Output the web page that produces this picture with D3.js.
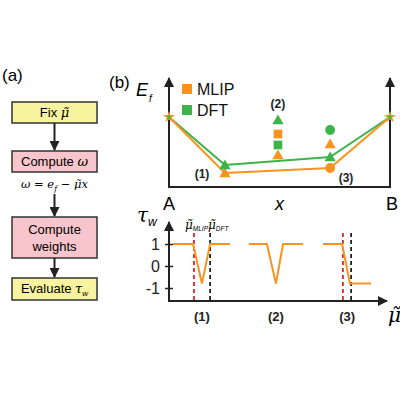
<!DOCTYPE html>
<html><head><meta charset="utf-8">
<script src="https://cdn.jsdelivr.net/npm/d3@7"></script>
<style>body{margin:0;background:#fff}svg{display:block;font-family:"Liberation Sans",Arial,sans-serif}</style>
</head><body>
<script>
// ---- data ----
const compositions = [0, 0.253, 0.729, 1];
const efMLIP = [7.0, 1.4, 1.9, 7.0];
const efDFT = [7.0, 2.2, 3.0, 7.0];
const shapesMLIP = ["star", "triangle", "circle", "star"];
const shapesDFT = ["star", "triangle", "triangle", "star"];
const offX = [0.493, 0.493, 0.493, 0.493, 0.729, 0.729];
const offEf = [6.7, 5.3, 4.2, 3.2, 5.7, 4.3];
const offSeries = ["DFT", "MLIP", "DFT", "MLIP", "DFT", "MLIP"];
const offShape = ["triangle", "square", "square", "triangle", "circle", "triangle"];
const seriesNames = ["MLIP", "DFT"];
const tauSeg1Mu = [0.018, 0.109, 0.149, 0.186, 0.276];
const tauSeg1 = [1, 1, -0.8, 1, 1];
const tauSeg2Mu = [0.362, 0.443, 0.484, 0.516, 0.606];
const tauSeg2 = [1, 1, -0.8, 1, 1];
const tauSeg3Mu = [0.697, 0.783, 0.819, 0.914];
const tauSeg3 = [1, 1, -0.8, -0.8];
const muMLIP = [0.113, 0.787];
const muDFT = [0.186, 0.824];
const tauTicks = [1, 0, -1];
const structLabels = ["(1)", "(2)", "(3)"];
const structMu = [0.149, 0.484, 0.806];
const flowSteps = ["Fix", "Compute", "Compute weights", "Evaluate"];

const colors = {MLIP: "#F7931E", DFT: "#3BB44A"};
const W = 400, H = 400;
const svg = d3.select("body").append("svg").attr("width", W).attr("height", H);
const defs = svg.append("defs");
defs.append("marker").attr("id", "ah").attr("viewBox", "0 0 10 10").attr("refX", 9).attr("refY", 5)
  .attr("markerWidth", 5).attr("markerHeight", 5).attr("orient", "auto-start-reverse")
  .append("path").attr("d", "M0,0 L10,5 L0,10 Z").attr("fill", "#222");
const symMap = {star: d3.symbolStar, triangle: d3.symbolTriangle, circle: d3.symbolCircle, square: d3.symbolSquare};
const symSize = {star: 110, triangle: 55, circle: 75, square: 75};

// ---- (a) flowchart ----
svg.append("text").attr("x", 2).attr("y", 81).attr("font-size", 17).text("(a)");
const boxes = [
  {y0: 102, y1: 123, fill: "#F8F39E"},
  {y0: 151, y1: 172, fill: "#F7C5CB"},
  {y0: 217, y1: 258, fill: "#F7C5CB"},
  {y0: 278, y1: 300, fill: "#F8F39E"}
];
const fc = svg.append("g");
boxes.forEach((b, i) => {
  fc.append("rect").attr("x", 12).attr("y", b.y0).attr("width", 85).attr("height", b.y1 - b.y0)
    .attr("fill", b.fill).attr("stroke", "#333").attr("stroke-width", 1.5);
});
const cx = 54.5;
const t0 = fc.append("text").attr("x", cx).attr("y", 117).attr("text-anchor", "middle").attr("font-size", 13);
t0.append("tspan").text(flowSteps[0] + " ");
t0.append("tspan").attr("font-style", "italic").attr("font-family", "DejaVu Serif").text("μ\u0303");
const t1 = fc.append("text").attr("x", cx).attr("y", 166).attr("text-anchor", "middle").attr("font-size", 13);
t1.append("tspan").text(flowSteps[1] + " ");
t1.append("tspan").attr("font-style", "italic").attr("font-family", "DejaVu Serif").text("ω");
const w2 = flowSteps[2].split(" ");
fc.append("text").attr("x", cx).attr("y", 234).attr("text-anchor", "middle").attr("font-size", 13).text(w2[0]);
fc.append("text").attr("x", cx).attr("y", 251).attr("text-anchor", "middle").attr("font-size", 13).text(w2[1]);
const t3 = fc.append("text").attr("x", cx).attr("y", 293).attr("text-anchor", "middle").attr("font-size", 13);
t3.append("tspan").text(flowSteps[3] + " ");
t3.append("tspan").attr("font-style", "italic").attr("font-family", "DejaVu Serif").text("τ");
t3.append("tspan").attr("font-size", 8).attr("dy", 3).attr("font-style", "italic").text("w");
const fm = fc.append("text").attr("x", cx).attr("y", 188).attr("text-anchor", "middle").attr("font-size", 11.5)
  .attr("font-family", "DejaVu Serif").attr("font-style", "italic");
fm.append("tspan").text("ω");
fm.append("tspan").attr("font-style", "normal").text(" = ");
fm.append("tspan").text("e");
fm.append("tspan").attr("font-size", 8).attr("dy", 3).text("f");
fm.append("tspan").attr("dy", -3).attr("font-style", "normal").text(" − ");
fm.append("tspan").text("μ\u0303x");
[[123, 151], [194, 217], [258, 278]].forEach(([a, b]) => {
  fc.append("line").attr("x1", cx).attr("x2", cx).attr("y1", a).attr("y2", b - 1)
    .attr("stroke", "#222").attr("stroke-width", 2).attr("marker-end", "url(#ah)");
});

// ---- (b) top panel ----
svg.append("text").attr("x", 109).attr("y", 88).attr("font-size", 17).text("(b)");
const xT = d3.scaleLinear().domain([0, 1]).range([169, 390]);
const yT = d3.scaleLinear().domain([0, 10]).range([187, 87]);
const topG = svg.append("g");
topG.append("line").attr("x1", xT(0)).attr("x2", xT(0)).attr("y1", yT(0)).attr("y2", 78)
  .attr("stroke", "#222").attr("stroke-width", 2).attr("marker-end", "url(#ah)");
topG.append("line").attr("x1", xT(1)).attr("x2", xT(1)).attr("y1", yT(0)).attr("y2", 78)
  .attr("stroke", "#222").attr("stroke-width", 2).attr("marker-end", "url(#ah)");
topG.append("line").attr("x1", xT(0) - 1).attr("x2", xT(1) + 1).attr("y1", yT(0)).attr("y2", yT(0))
  .attr("stroke", "#222").attr("stroke-width", 2);
const ef = topG.append("text").attr("x", 136).attr("y", 96).attr("font-size", 18).attr("font-style", "italic");
ef.append("tspan").text("E");
ef.append("tspan").attr("font-size", 10).attr("dy", 6).attr("dx", 1).text("f");
topG.append("text").attr("x", xT(0)).attr("y", 210).attr("text-anchor", "middle").attr("font-size", 18).text("A");
topG.append("text").attr("x", xT(1) + 2).attr("y", 210).attr("text-anchor", "middle").attr("font-size", 18).text("B");
topG.append("text").attr("x", xT(0.5)).attr("y", 210).attr("text-anchor", "middle").attr("font-size", 18).attr("font-style", "italic").text("x");

const line = d3.line().x(d => xT(d[0])).y(d => yT(d[1]));
[["DFT", efDFT], ["MLIP", efMLIP]].forEach(([name, vals]) => {
  const pts = compositions.map((c, i) => [c, vals[i]]);
  topG.append("path").attr("d", line(pts)).attr("fill", "none").attr("stroke", colors[name]).attr("stroke-width", 2);
});
[["MLIP", efMLIP, shapesMLIP], ["DFT", efDFT, shapesDFT]].forEach(([name, vals, shapes]) => {
  compositions.forEach((c, i) => {
    const s = shapes[i];
    const sz = s === "star" ? (name === "MLIP" ? 45 : 10) : symSize[s];
    topG.append("path").attr("d", d3.symbol(symMap[s], sz)())
      .attr("transform", `translate(${xT(c)},${yT(vals[i]) + (s === "triangle" ? 1 : 0)})`)
      .attr("fill", colors[name]);
  });
});
offX.forEach((c, i) => {
  const s = offShape[i];
  topG.append("path").attr("d", d3.symbol(symMap[s], symSize[s])())
    .attr("transform", `translate(${xT(c)},${yT(offEf[i]) + (s === "triangle" ? 1 : 0)})`)
    .attr("fill", colors[offSeries[i]]);
});
topG.append("text").attr("x", 202).attr("y", 178).attr("text-anchor", "middle").attr("font-size", 12).attr("font-weight", "bold").attr("fill", "#222").text(structLabels[0]);
topG.append("text").attr("x", xT(offX[0])).attr("y", 108).attr("text-anchor", "middle").attr("font-size", 12).attr("font-weight", "bold").attr("fill", "#222").text(structLabels[1]);
topG.append("text").attr("x", 346).attr("y", 182).attr("text-anchor", "middle").attr("font-size", 12).attr("font-weight", "bold").attr("fill", "#222").text(structLabels[2]);
// legend
seriesNames.forEach((n, i) => {
  const y = 89 + i * 21;
  topG.append("rect").attr("x", 182).attr("y", y - 5).attr("width", 10).attr("height", 10).attr("fill", colors[n]);
  topG.append("text").attr("x", 197).attr("y", y + 6).attr("font-size", 16).attr("fill", "#111").text(n);
});

// ---- bottom panel ----
const xB = d3.scaleLinear().domain([0, 1]).range([169, 390]);
const yB = d3.scaleLinear().domain([-1, 1]).range([288, 244]);
const bot = svg.append("g");
bot.append("line").attr("x1", xB(0)).attr("x2", xB(0)).attr("y1", 302).attr("y2", 222)
  .attr("stroke", "#222").attr("stroke-width", 2).attr("marker-end", "url(#ah)");
bot.append("line").attr("x1", xB(0) - 1).attr("x2", 387).attr("y1", 301).attr("y2", 301)
  .attr("stroke", "#222").attr("stroke-width", 2).attr("marker-end", "url(#ah)");
const ax = bot.append("g").attr("transform", `translate(${xB(0)},0)`)
  .call(d3.axisLeft(yB).tickValues(tauTicks).tickSize(4).tickFormat(d3.format("d")));
ax.select(".domain").remove();
ax.selectAll(".tick line").attr("x1", -4).attr("x2", 4).attr("stroke", "#222").attr("stroke-width", 1.5);
ax.selectAll(".tick text").attr("font-size", 16).attr("x", -9).attr("fill", "#222")
  .attr("font-family", "Liberation Sans, Arial, sans-serif").text(d => d < 0 ? "-" + Math.abs(d) : d);
const tw = bot.append("text").attr("x", 137).attr("y", 222).attr("font-size", 20).attr("font-style", "italic").attr("font-family", "DejaVu Serif");
tw.append("tspan").text("τ");
tw.append("tspan").attr("font-size", 12).attr("dy", 4).attr("font-family", "Liberation Sans").text("w");
// dashed
muMLIP.forEach(m => bot.append("line").attr("x1", xB(m)).attr("x2", xB(m)).attr("y1", 233).attr("y2", 300)
  .attr("stroke", "#E8222A").attr("stroke-width", 1.8).attr("stroke-dasharray", "4,3"));
muDFT.forEach(m => bot.append("line").attr("x1", xB(m)).attr("x2", xB(m)).attr("y1", 233).attr("y2", 300)
  .attr("stroke", "#222").attr("stroke-width", 1.8).attr("stroke-dasharray", "4,3"));
const lb = d3.line().x(d => xB(d[0])).y(d => yB(d[1]));
[[tauSeg1Mu, tauSeg1], [tauSeg2Mu, tauSeg2], [tauSeg3Mu, tauSeg3]].forEach(([mu, t]) => {
  bot.append("path").attr("d", lb(mu.map((m, i) => [m, t[i]]))).attr("fill", "none")
    .attr("stroke", colors.MLIP).attr("stroke-width", 2);
});
// mu labels
const m1 = bot.append("text").attr("x", 185).attr("y", 229).attr("font-size", 12).attr("font-style", "italic").attr("font-family", "DejaVu Serif");
m1.append("tspan").text("μ\u0303");
m1.append("tspan").attr("font-size", 6.5).attr("dy", 2).attr("font-family", "Liberation Sans").text("MLIP");
const m2 = bot.append("text").attr("x", 208).attr("y", 229).attr("font-size", 12).attr("font-style", "italic").attr("font-family", "DejaVu Serif");
m2.append("tspan").text("μ\u0303");
m2.append("tspan").attr("font-size", 6.5).attr("dy", 2).attr("font-family", "Liberation Sans").text("DFT");
structLabels.forEach((l, i) => bot.append("text").attr("x", xB(structMu[i])).attr("y", 321)
  .attr("text-anchor", "middle").attr("font-size", 13).attr("font-weight", "bold").attr("fill", "#222").text(l));
bot.append("text").attr("x", 388).attr("y", 322).attr("font-size", 20).attr("font-style", "italic").attr("font-family", "DejaVu Serif").text("μ\u0303");
</script>
</body></html>
